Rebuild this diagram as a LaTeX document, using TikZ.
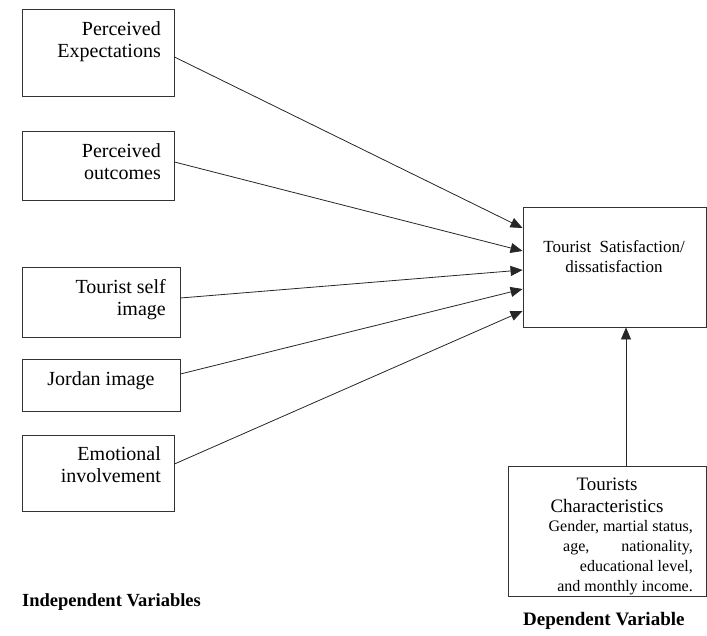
\documentclass[tikz,border=0pt]{standalone}
\usepackage{fontspec}
\setmainfont{Liberation Serif}
\usetikzlibrary{arrows.meta}

\begin{document}
\begin{tikzpicture}[
    x=1pt, y=-1pt,
    box/.style={draw=black!80, line width=0.9pt, inner sep=0pt},
    lbl/.style={inner sep=0pt, align=right, font=\fontsize{20}{22}\selectfont},
    small/.style={inner sep=0pt, align=right, font=\fontsize{16}{20}\selectfont},
    head/.style={inner sep=0pt, font=\fontsize{18.5}{22}\selectfont\bfseries},
    arrow/.style={-{Triangle[length=12pt, width=10pt]}, line width=0.8pt, draw=black!85},
]
\useasboundingbox (0,0) rectangle (707,636);

% Independent variables
\node[box, minimum width=152pt, minimum height=87pt] (b1) at (98, 52.5) {};
\node[lbl, anchor=north east] (t1) at (161, 21) {Perceived\\Expectations};

\node[box, minimum width=152pt, minimum height=69pt] (b2) at (98, 165.5) {};
\node[lbl, anchor=north east] (t2) at (161, 143) {Perceived\\outcomes};

\node[box, minimum width=158pt, minimum height=70pt] (b3) at (101, 302) {};
\node[lbl, anchor=north east] (t3) at (166, 279) {Tourist self\\image};

\node[box, minimum width=158pt, minimum height=52pt] (b4) at (101, 385) {};
\node[lbl, anchor=base] (t4) at (101, 385) {Jordan image};

\node[box, minimum width=152pt, minimum height=76pt] (b5) at (98, 473) {};
\node[lbl, anchor=north east] (t5) at (161, 446) {Emotional\\involvement};

% Dependent variable
\node[box, minimum width=183pt, minimum height=120pt] (sat) at (614.5, 267) {};
\node[inner sep=0pt, align=center, font=\fontsize{17}{20}\selectfont, anchor=north] (ts) at (614, 240) {Tourist\ \ Satisfaction/\\dissatisfaction};

% Tourist characteristics
\node[box, minimum width=198pt, minimum height=130pt] (chr) at (607, 531) {};
\node[inner sep=0pt, align=center, font=\fontsize{19}{22}\selectfont, anchor=north] (tc) at (607, 477.5) {Tourists\\Characteristics};
\node[small, anchor=north east] (tl) at (693, 520.5) {Gender, martial status,\\age,\hspace{32pt}nationality,\\educational level,\\and monthly income.};

% Headings
\node[head, anchor=base west] (hi) at (22, 606) {Independent Variables};
\node[head, font=\fontsize{19}{22}\selectfont\bfseries, anchor=base west] (hd) at (523, 625) {Dependent Variable};

% Paths
\draw[arrow] ([yshift=-4.5pt]b1.east) -- ([yshift=39pt]sat.west);
\draw[arrow] ([yshift=3.5pt]b2.east) -- ([yshift=16pt]sat.west);
\draw[arrow] ([yshift=4pt]b3.east) -- ([yshift=-3pt]sat.west);
\draw[arrow] ([yshift=11pt]b4.east) -- ([yshift=-22pt]sat.west);
\draw[arrow] ([yshift=9pt]b5.east) -- ([yshift=-44pt]sat.west);
\draw[arrow] ([xshift=19pt]chr.north) -- ([xshift=19pt]chr.north |- sat.south);
\end{tikzpicture}
\end{document}
